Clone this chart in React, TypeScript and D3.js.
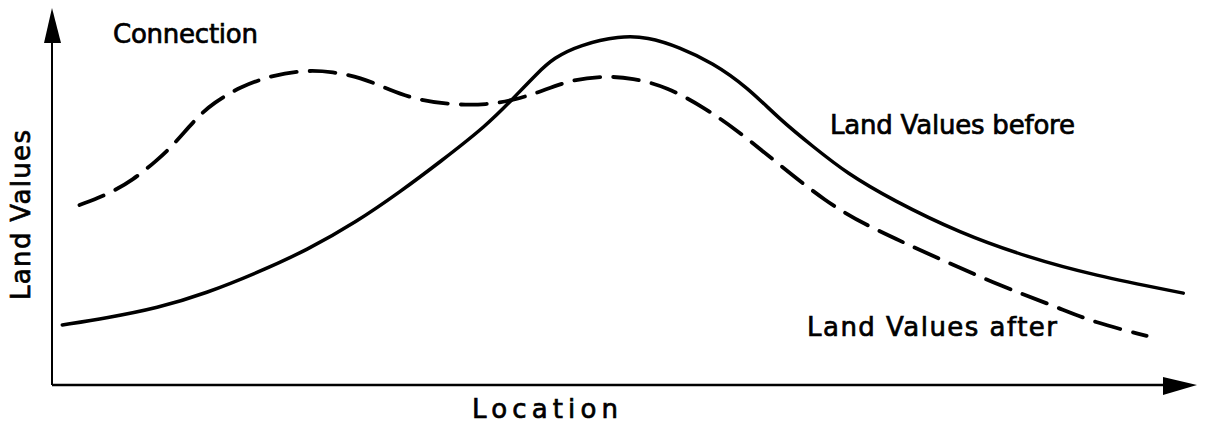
import React from 'react';
import * as d3 from 'd3';

// "before" curve (solid) – location vs. land value, both on a 0–100 scale
const beforeLocation = [0.9, 4.8, 9.2, 13.5, 17.9, 22.3, 26.6, 30.4, 33.9, 38.0, 40.3, 42.4, 43.8, 46.1, 49.6, 52.0, 54.8, 57.7, 60.7, 63.6, 66.5, 69.4, 73.4, 79.3, 85.2, 90.9, 98.8];
const beforeValue = [16.0, 17.9, 20.5, 24.5, 29.9, 36.0, 43.5, 51.5, 59.5, 69.3, 76.5, 83.2, 87.2, 90.7, 93.1, 92.8, 90.1, 85.9, 79.5, 70.7, 63.5, 56.5, 49.3, 40.5, 34.1, 29.3, 24.5];

// "after" curve (dashed)
const afterLocation = [2.4, 4.8, 7.1, 9.2, 10.6, 12.7, 14.1, 16.4, 19.3, 22.3, 24.5, 26.9, 29.5, 31.9, 35.0, 38.0, 40.3, 42.4, 45.2, 48.1, 50.7, 53.7, 56.9, 59.8, 62.7, 67.7, 71.4, 76.4, 82.2, 88.0, 90.9, 95.6];
const afterValue = [48.0, 50.7, 54.7, 60.0, 64.0, 71.5, 75.2, 79.5, 82.7, 84.0, 83.5, 82.1, 78.7, 76.0, 74.7, 74.7, 76.0, 77.9, 81.3, 82.4, 81.9, 79.5, 74.1, 68.0, 60.8, 48.5, 42.1, 35.2, 27.2, 20.5, 16.8, 13.1];

const width = 1206;
const height = 425;

const App = () => {
  const x = d3.scaleLinear().domain([0, 100]).range([52, 1197]);
  const y = d3.scaleLinear().domain([0, 100]).range([385, 10]);

  const line = d3.line<[number, number]>()
    .x(d => x(d[0]))
    .y(d => y(d[1]))
    .curve(d3.curveBasis);

  const before = beforeLocation.map((l, i) => [l, beforeValue[i]] as [number, number]);
  const after = afterLocation.map((l, i) => [l, afterValue[i]] as [number, number]);

  const x0 = x(0);
  const y0 = y(0);
  const xEnd = x(100);
  const yEnd = 8;

  // lettering-guide look: plain sans, slightly thickened
  const font = {
    fontFamily: '"DejaVu Sans", sans-serif',
    fontSize: 26,
    fill: '#000',
    stroke: '#000',
    strokeWidth: 0.7,
  };

  return (
    <svg width={width} height={height} style={{ position: 'absolute', left: 0, top: 0, background: 'white' }}>
      {/* axes */}
      <line x1={x0} y1={y0} x2={x0} y2={yEnd + 30} stroke="#000" strokeWidth={2} />
      <line x1={x0} y1={y0} x2={xEnd - 30} y2={y0} stroke="#000" strokeWidth={2.5} />
      <polygon points={`${x0},${yEnd} ${x0 - 8},${yEnd + 35} ${x0 + 9},${yEnd + 35}`} fill="#000" />
      <polygon points={`${xEnd},${y0} ${xEnd - 34},${y0 - 8} ${xEnd - 34},${y0 + 10}`} fill="#000" />

      {/* curves */}
      <path d={line(before) || ''} fill="none" stroke="#000" strokeWidth={3.5} strokeLinecap="round" />
      <path d={line(after) || ''} fill="none" stroke="#000" strokeWidth={3.8} strokeDasharray="26 13" strokeLinecap="round" />

      {/* labels */}
      <text x={113} y={43} {...font} textLength={145} lengthAdjust="spacing">Connection</text>
      <text x={830} y={134} {...font} textLength={245} lengthAdjust="spacing">Land  Values  before</text>
      <text x={807} y={336} {...font} textLength={250} lengthAdjust="spacing">Land  Values  after</text>
      <text x={472} y={418} {...font} textLength={146} lengthAdjust="spacing">Location</text>
      <text transform="translate(30,300) rotate(-90)" {...font} textLength={170} lengthAdjust="spacing">Land  Values</text>
    </svg>
  );
};

export default App;
